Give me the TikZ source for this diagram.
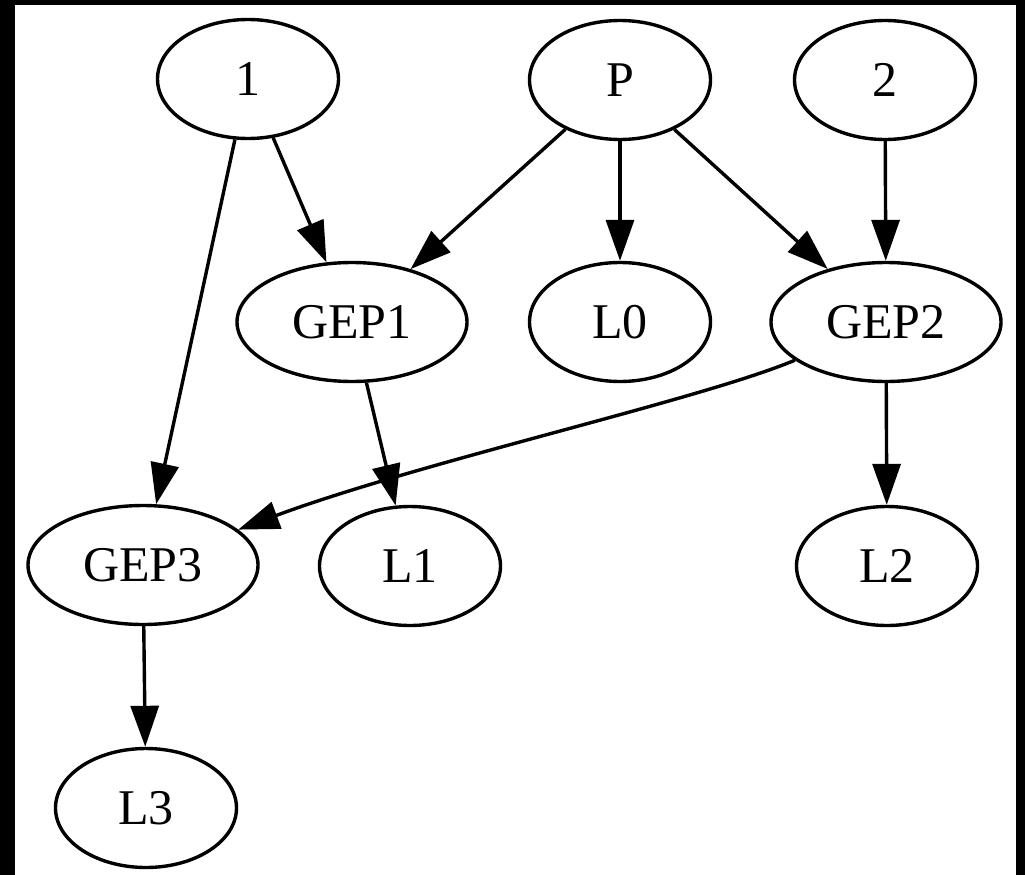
\documentclass[tikz,border=0pt]{standalone}
\usepackage{fontspec}
\setmainfont{Liberation Serif}
\usetikzlibrary{shapes.geometric, arrows.meta}
\begin{document}
\begin{tikzpicture}[x=1pt, y=-1pt,
  gnode/.style={ellipse, draw, line width=3.4pt, inner sep=0pt,
    minimum height=119pt, font=\fontsize{50}{54}\selectfont},
  narrow/.style={gnode, minimum width=181pt},
  wide/.style={gnode, minimum width=230pt},
  edge/.style={line width=3.4pt, -{Triangle[length=41pt, width=28pt]}}]
% frame and canvas
\fill[black] (0,0) rectangle (1025,875);
\fill[white] (15,5) rectangle (1016,875);
\useasboundingbox (0,0) rectangle (1025,875);
% nodes
\node[narrow] (n1)   at (248,79)  {1};
\node[narrow] (p)    at (620,80)  {P};
\node[narrow] (n2)   at (885,80)  {2};
\node[wide]   (gep1) at (352,322) {GEP1};
\node[narrow] (l0)   at (620,322) {L0};
\node[wide]   (gep2) at (886,322) {GEP2};
\node[wide]   (gep3) at (143,565) {GEP3};
\node[narrow] (l1)   at (410,566) {L1};
\node[narrow] (l2)   at (887,566) {L2};
\node[narrow] (l3)   at (146,808) {L3};
% control points of the long curved edge
\coordinate (c1) at (700,400);
\coordinate (c2) at (420,462);
% edges
\draw[edge] (n1) -- (gep1);
\draw[edge] (n1) -- (gep3);
\draw[edge] (p) -- (gep1);
\draw[edge] (p) -- (l0);
\draw[edge] (p) -- (gep2);
\draw[edge] (n2) -- (gep2);
\draw[edge] (gep1) -- (l1);
\draw[edge] (gep2) -- (l2);
\draw[edge] (gep2) .. controls (c1) and (c2) .. (gep3);
\draw[edge] (gep3) -- (l3);
\end{tikzpicture}
\end{document}
